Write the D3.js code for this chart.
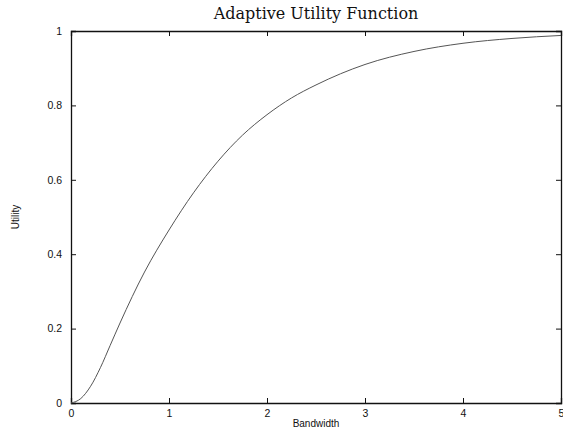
<!DOCTYPE html>
<html>
<head>
<meta charset="utf-8">
<script src="https://cdn.jsdelivr.net/npm/d3@7"></script>
<style>
  body { margin: 0; background: #fff; }
  svg { display: block; }
</style>
</head>
<body>
<div id="chart"></div>
<script>
// curve
const bandwidth = [0, 0.1, 0.2, 0.3, 0.4, 0.5, 0.75, 1, 1.25, 1.5, 1.75, 2, 2.25, 2.5, 3, 3.5, 4, 4.5, 5];
const utility   = [0, 0.012, 0.045, 0.095, 0.155, 0.215, 0.352, 0.465, 0.565, 0.65, 0.72, 0.775, 0.82, 0.855, 0.91, 0.945, 0.967, 0.98, 0.988];

const xTicks = [0, 1, 2, 3, 4, 5];
const yTicks = [0, 0.2, 0.4, 0.6, 0.8, 1];

const width = 563, height = 430;
const margin = {top: 31, right: 2, bottom: 27, left: 71};
const w = width - margin.left - margin.right;
const h = height - margin.top - margin.bottom;

const svg = d3.select("#chart").append("svg")
    .attr("width", width)
    .attr("height", height);

const g = svg.append("g")
    .attr("transform", `translate(${margin.left},${margin.top})`);

const x = d3.scaleLinear().domain([0, 5]).range([0, w]);
const y = d3.scaleLinear().domain([0, 1]).range([h, 0]);

const tickFont = "Liberation Sans, Arial, sans-serif";

// axes with inward ticks on all four sides
const axisBottom = g.append("g")
    .attr("transform", `translate(0,${h})`)
    .call(d3.axisBottom(x).tickValues(xTicks).tickSize(-5).tickPadding(7).tickFormat(d3.format("d")));
const axisTop = g.append("g")
    .call(d3.axisTop(x).tickValues(xTicks).tickSize(-5).tickFormat(""));
const axisLeft = g.append("g")
    .call(d3.axisLeft(y).tickValues(yTicks).tickSize(-5).tickPadding(9).tickFormat(d => d === 0 || d === 1 ? d3.format("d")(d) : d3.format(".1f")(d)));
const axisRight = g.append("g")
    .attr("transform", `translate(${w},0)`)
    .call(d3.axisRight(y).tickValues(yTicks).tickSize(-5).tickFormat(""));

[axisBottom, axisTop, axisLeft, axisRight].forEach(a => {
    a.select(".domain").attr("stroke", "#111").attr("stroke-width", 1.3);
    a.selectAll(".tick line").attr("stroke", "#111");
    a.selectAll("text").attr("font-family", tickFont).attr("font-size", 10.5).attr("fill", "#111");
});

// the curve
const line = d3.line()
    .x((d, i) => x(bandwidth[i]))
    .y(d => y(d))
    .curve(d3.curveMonotoneX);

g.append("path")
    .datum(utility)
    .attr("fill", "none")
    .attr("stroke", "#555")
    .attr("stroke-width", 1)
    .attr("d", line);

// title and labels
svg.append("text")
    .attr("x", margin.left + w / 2)
    .attr("y", 19)
    .attr("text-anchor", "middle")
    .attr("font-family", "DejaVu Serif, Liberation Serif, serif")
    .attr("font-size", 16)
    .attr("fill", "#111")
    .text("Adaptive Utility Function");

svg.append("text")
    .attr("x", margin.left + w / 2)
    .attr("y", 427)
    .attr("text-anchor", "middle")
    .attr("font-family", tickFont)
    .attr("font-size", 10)
    .attr("fill", "#111")
    .text("Bandwidth");

svg.append("text")
    .attr("transform", `translate(19,${margin.top + h / 2}) rotate(-90)`)
    .attr("text-anchor", "middle")
    .attr("font-family", tickFont)
    .attr("font-size", 10)
    .attr("fill", "#111")
    .text("Utility");
</script>
</body>
</html>
